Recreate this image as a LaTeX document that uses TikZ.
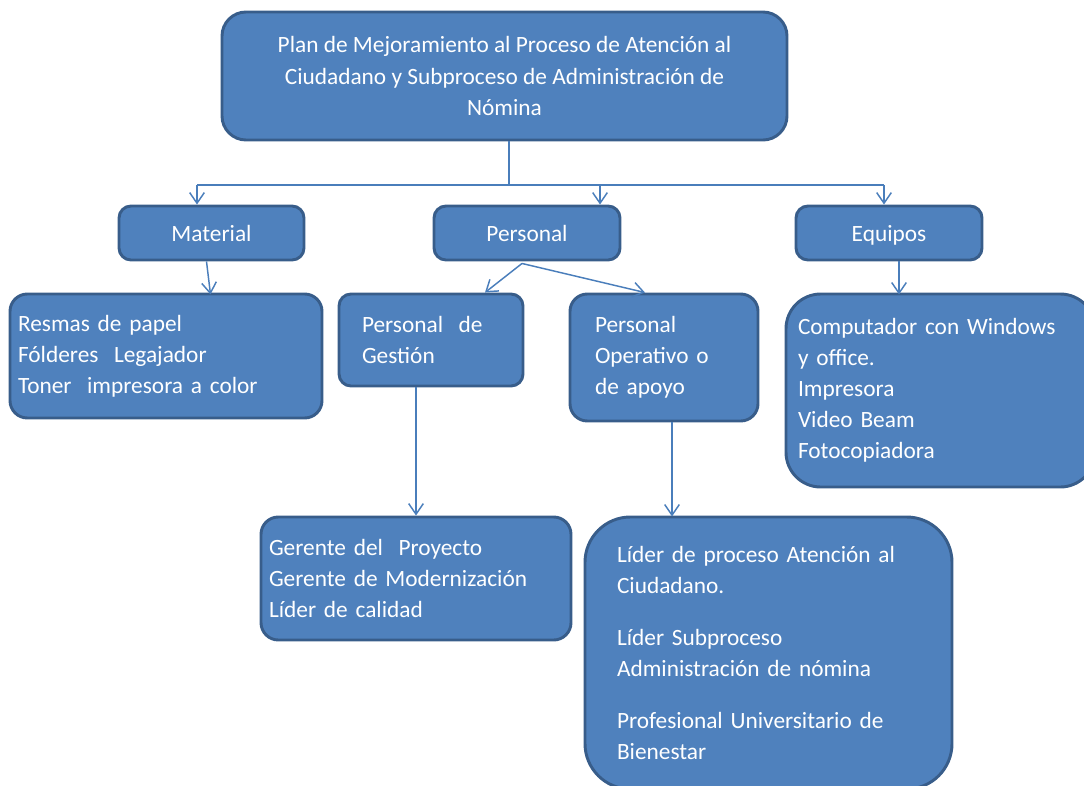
\documentclass[tikz,border=0pt]{standalone}
\usepackage{fontspec}
\setmainfont{Carlito}
\usetikzlibrary{arrows.meta,positioning,calc}
\definecolor{boxfill}{HTML}{4F81BD}
\definecolor{boxline}{HTML}{385D8A}
\definecolor{linkblue}{HTML}{4A7EBB}
\begin{document}
\begin{tikzpicture}[x=0.75pt,y=-0.75pt,>={Straight Barb[length=8pt,width=11pt]},
  font=\fontsize{17.5pt}{23.3pt}\selectfont,
  box/.style={draw=boxline,fill=boxfill,line width=2.2pt,text=white,rounded corners=9pt,inner ysep=0pt},
  small/.style={box,minimum width=139.5pt,minimum height=40.5pt,text height=14pt,text depth=2pt},
  link/.style={->,draw=linkblue,line width=1.1pt}]
\useasboundingbox (0,0) rectangle (1084,785);
\node[box,rounded corners=18pt,align=center,minimum width=423.75pt,minimum height=96pt] (top) at (504.5,76) {Plan de Mejoramiento al Proceso de Atención al\\Ciudadano y Subproceso de Administración de\\Nómina};
\node[small,minimum width=138.75pt] (material) at (211.5,233) {Material};
\node[small] (personal) at (527,233) {Personal};
\node[small] (equipos) at (889,233) {Equipos};
\node[box,rounded corners=13pt,align=left,inner xsep=6pt,text width=222pt,minimum height=93pt] (resmas) at (166,356) {Resmas de papel\\Fólderes\ \ Legajador\\Toner\ \ impresora a color};
\node[box,align=left,inner xsep=17.25pt,text width=103.5pt,minimum height=69pt] (gestion) at (431,340) {Personal\ \ de\\Gestión};
\node[box,rounded corners=13pt,align=left,inner xsep=18.75pt,text width=103.5pt,minimum height=95.25pt] (operativo) at (664,357.5) {Personal\\Operativo o\\de apoyo};
\node[box,rounded corners=26pt,align=left,inner xsep=9pt,text width=213.75pt,minimum height=144.75pt] (equipo) at (940.5,390.5) {Computador con Windows\\y office.\\Impresora\\Video Beam\\Fotocopiadora};
\node[box,rounded corners=13pt,align=left,inner xsep=6pt,text width=220.5pt,minimum height=92.25pt] (gerente) at (416,578.5) {Gerente del\ \ Proyecto\\Gerente de Modernización\\Líder de calidad};
\node[box,rounded corners=34pt,align=left,inner xsep=24pt,text width=227.25pt,minimum height=204pt] (lider) at (768.5,653) {Líder de proceso Atención al\\Ciudadano.\\[15.75pt]Líder Subproceso\\Administración de nómina\\[15.75pt]Profesional Universitario de\\Bienestar};
% bus from the plan
\coordinate (bus) at (509,185);
\coordinate (busl) at (197,185);
\coordinate (busm) at (600,185);
\coordinate (busr) at (884,185);
\draw[link,-] (top.south -| bus) -- (bus);
\draw[link,-] (busl) -- (busr);
\draw[link] (busl) -- (busl |- material.north);
\draw[link] (busm) -- (busm |- personal.north);
\draw[link] (busr) -- (busr |- equipos.north);
\draw[link] ($(material.south)+(-5,0)$) -- ($(material.south)+(-1,33)$);
\draw[link] ($(personal.south)+(-5,2)$) -- ($(gestion.north)+(54,0)$);
\draw[link] ($(personal.south)+(-5,2)$) -- ($(operativo.north)+(-19,0)$);
\draw[link] ($(equipos.south)+(10,0)$) -- ($(equipos.south)+(10,33)$);
\draw[link] (gerente.north |- gestion.south) -- (gerente.north);
\draw[link] ($(operativo.south)+(8,0)$) -- ($(operativo.south)+(8,94)$);
\end{tikzpicture}
\end{document}
